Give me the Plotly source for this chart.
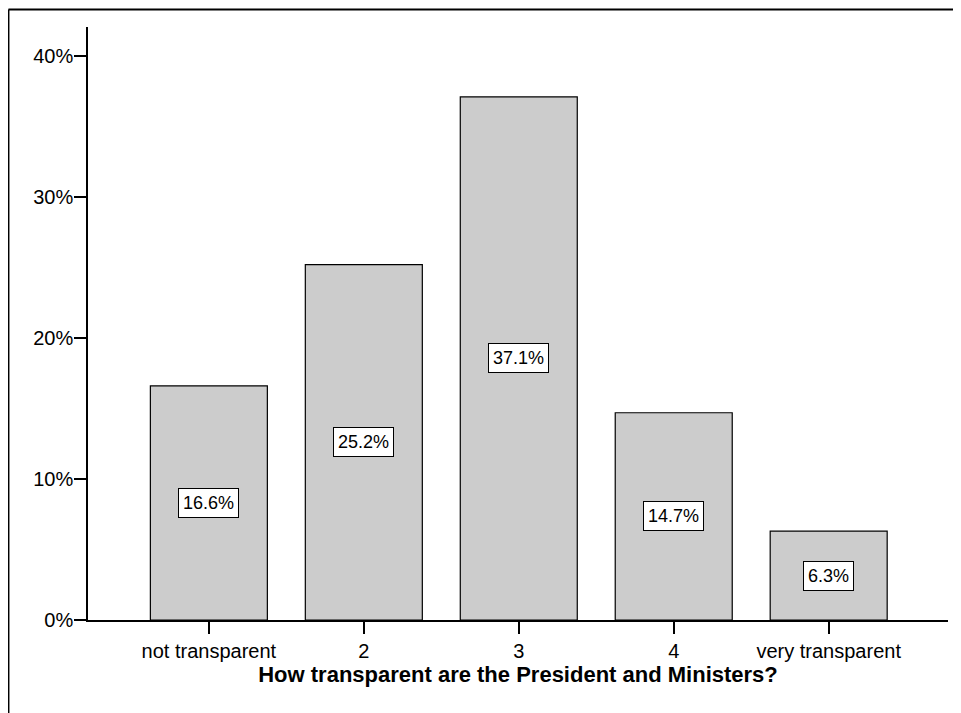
import plotly.graph_objects as go

# --- DATA ---
CATEGORIES = ['not transparent', '2', '3', '4', 'very transparent']
PERCENTS = [16.6, 25.2, 37.1, 14.7, 6.3]
Y_TICKS = [0, 10, 20, 30, 40]
Y_TICK_TEXT = ['0%', '10%', '20%', '30%', '40%']
TITLE = 'Figure 3: The perception of transparency of the President'
X_TITLE = 'How transparent are the President and Ministers?'
# -------------

FONT = 'Liberation Sans, Arial, sans-serif'

fig = go.Figure()

fig.add_trace(go.Bar(
    x=list(range(len(CATEGORIES))), y=PERCENTS,
    width=0.755,
    marker=dict(color='#cccccc', line=dict(color='black', width=1.2)),
    hoverinfo='skip'
))

# value labels boxed at mid-height of each bar
for i, v in enumerate(PERCENTS):
    fig.add_annotation(
        x=i, y=v / 2, text=f'{v:.1f}%', showarrow=False,
        font=dict(family=FONT, size=18, color='black'),
        bgcolor='white', bordercolor='black', borderwidth=1, borderpad=4
    )

# title sits just above the frame edge, cropped off like in the source page
fig.add_annotation(
    x=0.488, y=1.034, xref='paper', yref='paper', text=f'<b>{TITLE}</b>',
    showarrow=False, yanchor='bottom', xanchor='center',
    font=dict(family=FONT, size=17, color='black')
)

# outer frame (top and left edges)
fig.add_shape(type='line', xref='paper', yref='paper',
              x0=-0.0925, x1=1.1, y0=1.0295, y1=1.0295,
              line=dict(color='black', width=2))
fig.add_shape(type='line', xref='paper', yref='paper',
              x0=-0.0925, x1=-0.0925, y0=1.0295, y1=-0.25,
              line=dict(color='black', width=2))

fig.update_layout(
    width=953, height=705,
    margin=dict(l=80, r=13, t=19, b=93),
    paper_bgcolor='white', plot_bgcolor='white',
    showlegend=False,
    font=dict(family=FONT, size=20, color='black'),
    xaxis=dict(
        range=[-0.78, 4.77],
        tickmode='array', tickvals=list(range(len(CATEGORIES))), ticktext=CATEGORIES,
        ticks='outside', ticklen=12, tickwidth=1.5, tickcolor='black',
        showline=True, linecolor='black', linewidth=1.5,
        showgrid=False, zeroline=False,
        tickfont=dict(family=FONT, size=20),
        title=dict(text=f'<b>{X_TITLE}</b>', font=dict(family=FONT, size=22), standoff=4)
    ),
    yaxis=dict(
        range=[0, 42.06],
        tickmode='array', tickvals=Y_TICKS, ticktext=Y_TICK_TEXT,
        ticks='outside', ticklen=12, tickwidth=1.5, tickcolor='black',
        ticklabelstandoff=-3,
        showline=True, linecolor='black', linewidth=1.5,
        showgrid=False, zeroline=False,
        tickfont=dict(family=FONT, size=20)
    )
)

fig.write_html('out.html')
